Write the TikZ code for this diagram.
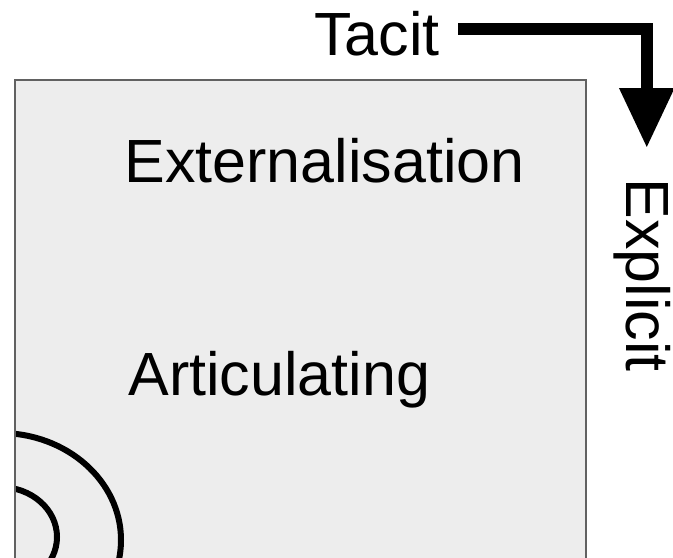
\documentclass[tikz,border=0pt]{standalone}
\usepackage{fontspec}
\setmainfont{Liberation Sans}
\usetikzlibrary{arrows.meta}

\begin{document}
\begin{tikzpicture}[x=0.5pt,y=-0.5pt,
  every node/.style={font=\fontsize{30.5}{36}\selectfont,inner sep=0pt},
  lbl/.style={anchor=base west},
  quadrant/.style={draw=black!62,line width=1pt},
  ring/.style={line width=3pt},
  flow/.style={line width=6pt,-{Triangle[length=30pt,width=26pt]}}]
  \useasboundingbox (0,0) rectangle (673,557);
  \clip (0,0) rectangle (673,557);
  \fill[black!7] (15,80) rectangle (586,600);
  \begin{scope}
    \clip (15,80) rectangle (586,600);
    \draw[ring] (0,540) ellipse [x radius=121,y radius=107];
    \draw[ring] (0,537) ellipse [x radius=57,y radius=50];
  \end{scope}
  \draw[quadrant] (15,80) rectangle (586,600);
  \node[lbl] (ext) at (124,182) {Externalisation};
  \node[lbl] (art) at (128,395) {Articulating};
  \node[lbl] (tacit) at (314,55) {Tacit};
  \node[lbl,rotate=-90] (expl) at (626,178) {Explicit};
  \draw[flow] ([xshift=9pt,yshift=2pt]tacit.east) -| ([xshift=2.5pt,yshift=15pt]expl.west);
\end{tikzpicture}
\end{document}
